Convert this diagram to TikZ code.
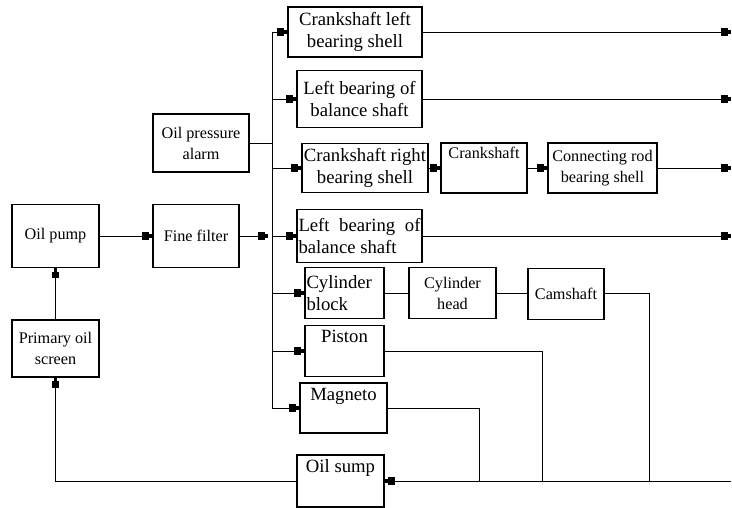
\documentclass[tikz,border=0pt]{standalone}
\usepackage{fontspec}
\setmainfont{Liberation Serif}
\usetikzlibrary{arrows.meta}
\newcommand\smallfont{\fontsize{16.2}{21}\selectfont}
\newcommand\bigfont{\fontsize{18.7}{22}\selectfont}
\tolerance=10000
\begin{document}
\begin{tikzpicture}[x=1pt, y=-1pt, line width=0.8pt,
		blk/.style={draw, line width=1.2pt, inner sep=1.5pt, align=center, font=\smallfont},
		big/.style={font=\bigfont},
		arr/.style={-{Square[length=6.5pt,width=7.5pt]Rectangle[length=3.5pt,width=3.5pt]}}]
		\useasboundingbox (0,0) rectangle (732,508);
		% left part
		\node[blk, minimum width=87, minimum height=63] (pump) at (55.5,236) {Oil pump};
		\node[blk, minimum width=86, minimum height=63] (filter) at (196,236) {Fine filter};
		\node[blk, minimum width=87, minimum height=57] (screen) at (55.5,348.5) {Primary oil\\screen};
		\node[blk, minimum width=96, minimum height=58] (alarm) at (201,143) {Oil pressure\\alarm};
		% branches
		\node[blk, big, minimum width=134, minimum height=50] (clbs) at (355,32) {Crankshaft left\\bearing shell};
		\node[blk, big, minimum width=125, minimum height=57] (lbs) at (359.5,99) {Left bearing of\\balance shaft};
		\node[blk, big, minimum width=126, minimum height=49] (crbs) at (365,168) {Crankshaft right\\bearing shell};
		\node[blk, minimum width=86, minimum height=50,
			label={[anchor=north, inner sep=4pt, font=\smallfont]north:Crankshaft}] (crank) at (484,168) {};
		\node[blk, minimum width=109, minimum height=50] (rod) at (602.5,168) {Connecting rod\\bearing shell};
		\node[blk, big, align=justify, text width=122pt, minimum height=53] (lbsb) at (359.5,236) {Left bearing of balance shaft};
		\node[blk, big, align=left, text width=76pt, minimum height=51] (block) at (344.5,293) {Cylinder\\block};
		\node[blk, minimum width=87, minimum height=51] (head) at (452.5,293) {Cylinder\\head};
		\node[blk, minimum width=76, minimum height=51] (cam) at (566,294) {Camshaft};
		\node[blk, minimum width=79, minimum height=51,
			label={[anchor=north, inner sep=5pt, font=\bigfont]north:Piston}] (piston) at (344.5,351) {};
		\node[blk, minimum width=87, minimum height=50,
			label={[anchor=north, inner sep=5pt, font=\bigfont]north:Magneto}] (magneto) at (343.5,408) {};
		\node[blk, minimum width=87, minimum height=52,
			label={[anchor=north, inner sep=5pt, font=\bigfont]north:Oil sump}] (sump) at (340.5,481) {};
		\coordinate (bus) at (272,0);
		\coordinate (out) at (731,0);
		% supply side
		\draw[arr] (screen) -- (pump);
		\draw[arr] (pump) -- (filter);
		\draw[arr] (filter.east) -- ([xshift=-4pt]filter.east -| bus);
		\draw (alarm.east) -- (alarm.east -| bus);
		\draw (clbs.west -| bus) -- (magneto.west -| bus);
		\draw[arr] (clbs.west -| bus) -- (clbs.west);
		\draw[arr] (lbs.west -| bus) -- (lbs.west);
		\draw[arr] (crbs.west -| bus) -- (crbs.west);
		\draw[arr] (lbsb.west -| bus) -- (lbsb.west);
		\draw[arr] (block.west -| bus) -- (block.west);
		\draw[arr] (piston.west -| bus) -- (piston.west);
		\draw[arr] (magneto.west -| bus) -- (magneto.west);
		% outlets
		\draw[arr] (crbs) -- (crank);
		\draw[arr] (crank) -- (rod);
		\draw (block) -- (head);
		\draw (head.east) -- (head.east -| cam.west);
		\draw[arr] (clbs.east) -- (clbs.east -| out);
		\draw[arr] (lbs.east) -- (lbs.east -| out);
		\draw[arr] (rod.east) -- (rod.east -| out);
		\draw[arr] (lbsb.east) -- (lbsb.east -| out);
		% return to sump
		\draw (cam.east |- head.east) -- (649,293) -- (649,481);
		\draw (piston.east) -- (542,351) -- (542,481);
		\draw (magneto.east) -- (479,408) -- (479,481);
		\draw[arr] (sump.east -| out) -- (sump.east);
		\draw[arr] (sump.west) -| (screen.south);
\end{tikzpicture}
\end{document}
